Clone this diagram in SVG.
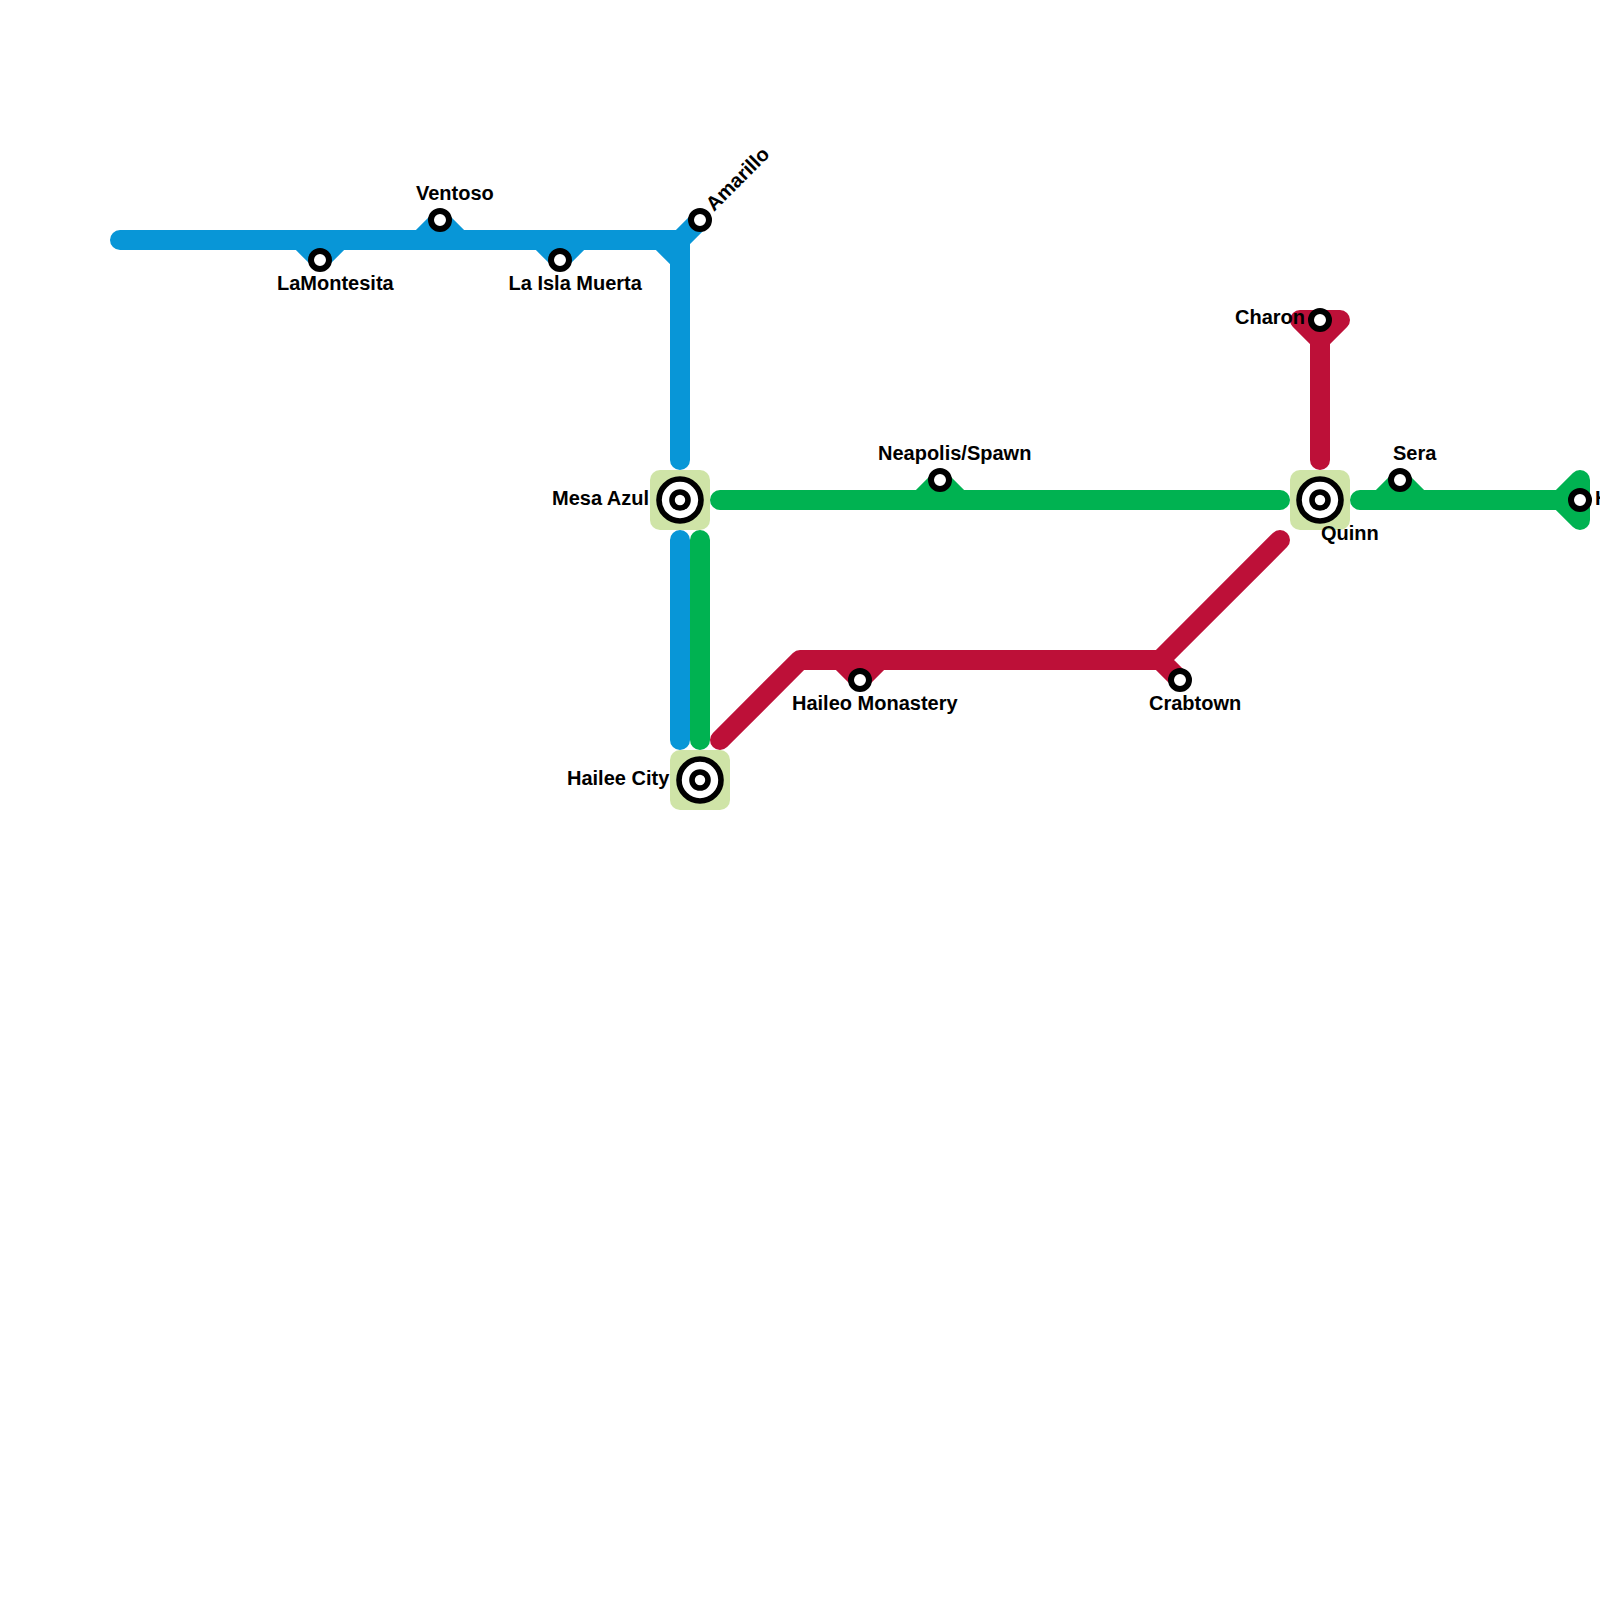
<svg xmlns="http://www.w3.org/2000/svg" width="1600" height="1600" viewBox="0 0 1600 1600">
<style>
.ln{fill:none;stroke-width:20;stroke-linecap:round;stroke-linejoin:round}
.b{stroke:#0896d7}.g{stroke:#00b251}.r{stroke:#bd1038}
.box{fill:#cfe4a7}
.st{fill:#fff;stroke:#000;stroke-width:6}
.ring{fill:#fff;stroke:#000;stroke-width:5.600}
text{font-family:"Liberation Sans",Arial,sans-serif;font-weight:bold;font-size:20px;fill:#000}
</style>
<rect width="1600" height="1600" fill="#fff"/>
<g id="connectors">
<path class="ln b" d="M120 240H680V460M680 240L700 220M660 240L680 260M420 240L440 220L460 240M300 240L320 260L340 240M540 240L560 260L580 240M680 540V740"/>
<path class="ln g" d="M720 500H1280M1360 500H1560M700 540V740M920 500L940 480L960 500M1380 500L1400 480L1420 500M1560 500L1580 480V520Z"/>
<path class="ln r" d="M720 740L800 660H1160L1280 540M1160 660L1180 680M840 660L860 680L880 660M1320 460V320M1300 320H1340L1320 340L1300 320Z"/>
</g>
<g id="ventoso"><circle class="st" cx="440" cy="220" r="9"/><text x="416" y="200">Ventoso</text></g>
<g id="lamontesita"><circle class="st" cx="320" cy="260" r="9"/><text x="277" y="290">LaMontesita</text></g>
<g id="la-isla-muerta"><circle class="st" cx="560" cy="260" r="9"/><text x="508.500" y="290">La Isla Muerta</text></g>
<g id="amarillo"><circle class="st" cx="700" cy="220" r="9"/><text transform="translate(714 212) rotate(-45)">Amarillo</text></g>
<g id="mesa-azul"><rect class="box" x="650" y="470" width="60" height="60" rx="10"/><circle class="ring" cx="680" cy="500" r="21"/><circle class="ring" cx="680" cy="500" r="8"/><text x="552" y="505">Mesa Azul</text></g>
<g id="hailee-city"><rect class="box" x="670" y="750" width="60" height="60" rx="10"/><circle class="ring" cx="700" cy="780" r="21"/><circle class="ring" cx="700" cy="780" r="8"/><text x="567" y="785">Hailee City</text></g>
<g id="quinn"><rect class="box" x="1290" y="470" width="60" height="60" rx="10"/><circle class="ring" cx="1320" cy="500" r="21"/><circle class="ring" cx="1320" cy="500" r="8"/><text x="1321" y="540">Quinn</text></g>
<g id="neapolis"><circle class="st" cx="940" cy="480" r="9"/><text x="878" y="460">Neapolis/Spawn</text></g>
<g id="haileo"><circle class="st" cx="860" cy="680" r="9"/><text x="792" y="710">Haileo Monastery</text></g>
<g id="crabtown"><circle class="st" cx="1180" cy="680" r="9"/><text x="1149" y="710">Crabtown</text></g>
<g id="charon"><circle class="st" cx="1320" cy="320" r="9"/><text x="1235" y="324">Charon</text></g>
<g id="sera"><circle class="st" cx="1400" cy="480" r="9"/><text x="1393" y="460">Sera</text></g>
<g id="end"><circle class="st" cx="1580" cy="500" r="9"/><text x="1595" y="505">H</text></g>
</svg>
